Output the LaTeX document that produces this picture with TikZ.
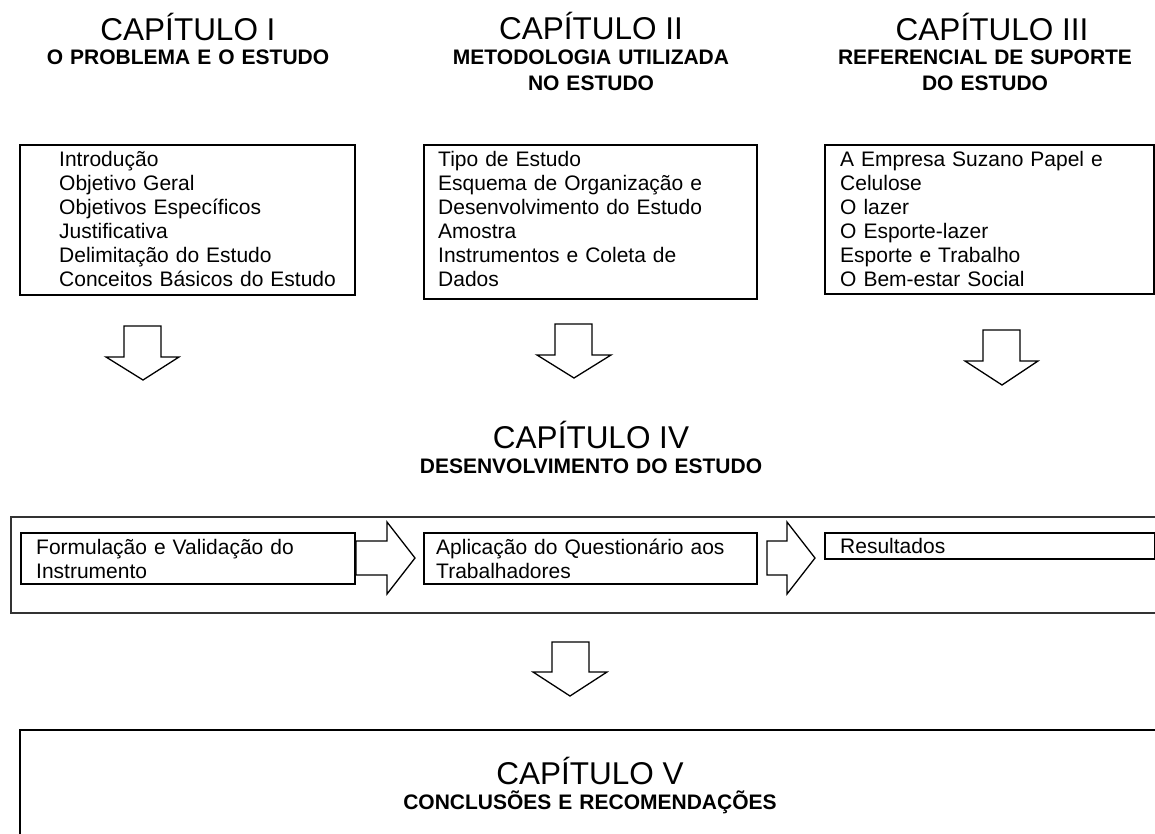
\documentclass[tikz,border=0pt]{standalone}
\usepackage{fontspec}
\setmainfont{Liberation Sans}
\begin{document}
\begin{tikzpicture}[x=1pt,y=-1pt,
  box/.style={draw=black,line width=2pt,inner sep=0pt,anchor=north west},
  outerbox/.style={draw=black!80,line width=1.5pt},
  blockarrow/.style={draw=black,line width=1.3pt,fill=white,line join=miter},
  titletext/.style={inner sep=0pt,anchor=base,font=\fontsize{31.5}{36}\selectfont},
  subtext/.style={inner sep=0pt,anchor=base,text width=400pt,align=center,font=\fontsize{21}{26}\selectfont\bfseries},
  bodytext/.style={inner sep=0pt,anchor=base west,text width=320pt,align=left,font=\fontsize{21}{24}\selectfont}]
\fill[white] (0,0) rectangle (1155,834);
\useasboundingbox (0,0) rectangle (1155,834);

% --- Chapter titles (top row)
\node[titletext] (t1) at (188,41) {CAPÍTULO I};
\node[subtext] (s1) at (188,65) {O PROBLEMA E O ESTUDO};
\node[titletext] (t2) at (591,40) {CAPÍTULO II};
\node[subtext] (s2) at (591,65) {METODOLOGIA UTILIZADA\\NO ESTUDO};
\node[titletext] (t3) at (992,41) {CAPÍTULO III};
\node[subtext] (s3) at (985,65) {REFERENCIAL DE SUPORTE\\DO ESTUDO};

% --- Top boxes
\node[box,minimum width=335pt,minimum height=150pt] (b1) at (19,144) {};
\node[bodytext] (b1t) at (59,167) {Introdução\\Objetivo Geral\\Objetivos Específicos\\Justificativa\\Delimitação do Estudo\\Conceitos Básicos do Estudo};
\node[box,minimum width=333pt,minimum height=154pt] (b2) at (423,144) {};
\node[bodytext] (b2t) at (438,167) {Tipo de Estudo\\Esquema de Organização e\\Desenvolvimento do Estudo\\Amostra\\Instrumentos e Coleta de\\Dados};
\node[box,minimum width=329pt,minimum height=149pt] (b3) at (824,144) {};
\node[bodytext] (b3t) at (840,167) {A Empresa Suzano Papel e\\Celulose\\O lazer\\O Esporte-lazer\\Esporte e Trabalho\\O Bem-estar Social};

% --- Down arrows (top row)
\draw[blockarrow] (124,326) -- (161,326) -- (161,357) -- (179,357) -- (143,380) -- (106,357) -- (124,357) -- cycle;
\draw[blockarrow] (555,324) -- (592,324) -- (592,355) -- (611,355) -- (574,378) -- (537,355) -- (555,355) -- cycle;
\draw[blockarrow] (983,330) -- (1020,330) -- (1020,361) -- (1038,361) -- (1002,385) -- (965,361) -- (983,361) -- cycle;

% --- Chapter IV
\node[titletext] (t4) at (591,448) {CAPÍTULO IV};
\node[subtext] (s4) at (591,473) {DESENVOLVIMENTO DO ESTUDO};
\draw[outerbox] (11,517) rectangle (1170,613);
\node[box,minimum width=334pt,minimum height=51pt] (c1) at (20,532) {};
\node[bodytext] (c1t) at (36,554) {Formulação e Validação do\\Instrumento};
\node[box,minimum width=333pt,minimum height=51pt] (c2) at (423,532) {};
\node[bodytext] (c2t) at (436,554) {Aplicação do Questionário aos\\Trabalhadores};
\node[box,minimum width=330pt,minimum height=26pt] (c3) at (824,532) {};
\node[bodytext] (c3t) at (840,553) {Resultados};

\draw[blockarrow] (356,541) -- (387,541) -- (387,522) -- (415,558) -- (387,594) -- (387,575) -- (356,575) -- cycle;
\draw[blockarrow] (767,541) -- (787,541) -- (787,522) -- (815,558) -- (787,594) -- (787,575) -- (767,575) -- cycle;

% --- Down arrow to chapter V
\draw[blockarrow] (552,642) -- (589,642) -- (589,672) -- (607,672) -- (570,696) -- (533,672) -- (552,672) -- cycle;

% --- Chapter V
\draw[draw=black,line width=2pt] (20,730) rectangle (1175,850);
\node[titletext] (t5) at (590,784) {CAPÍTULO V};
\node[subtext] (s5) at (590,809) {CONCLUSÕES E RECOMENDAÇÕES};
\end{tikzpicture}
\end{document}
